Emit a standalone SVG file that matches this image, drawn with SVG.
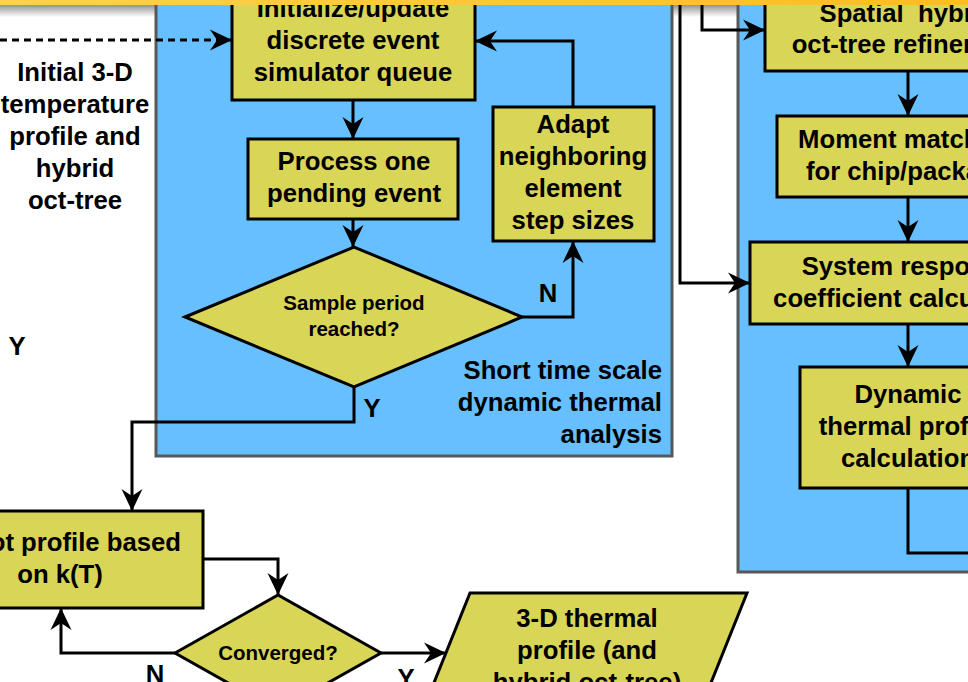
<svg xmlns="http://www.w3.org/2000/svg" width="968" height="682" viewBox="0 0 968 682">
<defs>
<linearGradient id="band" x1="0" y1="0" x2="1" y2="0">
<stop offset="0" stop-color="#fcd24c"/>
<stop offset="1" stop-color="#fbbd22"/>
</linearGradient>
<linearGradient id="shade" x1="0" y1="0" x2="0" y2="1">
<stop offset="0" stop-color="#8a8a8a"/>
<stop offset="1" stop-color="#ffffff"/>
</linearGradient>
<marker id="arr" markerUnits="userSpaceOnUse" markerWidth="24" markerHeight="24" viewBox="-23 -11 24 22" refX="0" refY="0" orient="auto">
<path d="M0,0 L-22,-10.5 L-15,0 L-22,10.5 Z" fill="#000"/>
</marker>
</defs>
<style>
.panel{fill:#66bfff;stroke:#585858;stroke-width:3}
.box{fill:#d9d557;stroke:#000;stroke-width:3}
.t{font-family:"Liberation Sans",Arial,sans-serif;font-weight:bold;font-size:25.7px;fill:#000;text-anchor:middle}
.s{font-size:20.5px}
.c{fill:none;stroke:#000;stroke-width:3}
.d{fill:none;stroke:#000;stroke-width:3;stroke-dasharray:7 5}
</style>
<rect x="0" y="0" width="968" height="682" fill="#fff"/>
<rect x="0" y="4" width="968" height="13" fill="url(#shade)"/>

<g id="panel-short">
<rect class="panel" x="156" y="-20" width="516" height="476"/>
<text class="t" style="text-anchor:end" x="662" y="379">Short time scale</text>
<text class="t" style="text-anchor:end" x="662" y="411">dynamic thermal</text>
<text class="t" style="text-anchor:end" x="662" y="443">analysis</text>
</g>
<g id="panel-long">
<rect class="panel" x="738" y="-20" width="260" height="592"/>
</g>

<g id="initial-text">
<text class="t" x="75" y="81">Initial 3-D</text>
<text class="t" x="75" y="113">temperature</text>
<text class="t" x="75" y="145">profile and</text>
<text class="t" x="75" y="177">hybrid</text>
<text class="t" x="75" y="209">oct-tree</text>
</g>

<g id="init-queue">
<rect class="box" x="232" y="-30" width="243" height="130"/>
<text class="t" x="353" y="17">Initialize/update</text>
<text class="t" x="353" y="49">discrete event</text>
<text class="t" x="353" y="81">simulator queue</text>
</g>
<g id="process-event">
<rect class="box" x="248" y="139" width="210" height="80"/>
<text class="t" x="354" y="170">Process one</text>
<text class="t" x="354" y="202">pending event</text>
</g>
<g id="sample-period">
<polygon class="box" points="185,317 354,247 522,317 354,387"/>
<text class="t s" x="354" y="310">Sample period</text>
<text class="t s" x="354" y="336">reached?</text>
</g>
<g id="adapt">
<rect class="box" x="493" y="107" width="161" height="134"/>
<text class="t" x="573" y="133">Adapt</text>
<text class="t" x="573" y="165">neighboring</text>
<text class="t" x="573" y="197">element</text>
<text class="t" x="573" y="229">step sizes</text>
</g>

<g id="spatial-refine">
<rect class="box" x="765" y="-30" width="240" height="101"/>
<text class="t" x="908" y="22" style="white-space:pre">Spatial  hybrid</text>
<text class="t" x="908" y="53">oct-tree refinement</text>
</g>
<g id="moment-match">
<rect class="box" x="777" y="116" width="230" height="81"/>
<text class="t" x="908" y="148">Moment matching</text>
<text class="t" x="908" y="180">for chip/package</text>
</g>
<g id="system-response">
<rect class="box" x="750" y="242" width="260" height="82"/>
<text class="t" x="908" y="275">System response</text>
<text class="t" x="908" y="307">coefficient calculation</text>
</g>
<g id="dynamic-profile">
<rect class="box" x="800" y="367" width="210" height="121"/>
<text class="t" x="908" y="403">Dynamic</text>
<text class="t" x="908" y="435">thermal profile</text>
<text class="t" x="908" y="467">calculation</text>
</g>

<g id="kt-profile">
<rect class="box" x="-40" y="511" width="243" height="97"/>
<text class="t" style="text-anchor:end" x="181" y="551">ot profile based</text>
<text class="t" x="60" y="583">on k(T)</text>
</g>
<g id="converged">
<polygon class="box" points="175,653 278,595 381,653 278,711"/>
<text class="t s" x="278" y="660">Converged?</text>
</g>
<g id="output-profile">
<polygon class="box" points="470,593 747,593 684,750 407,750"/>
<text class="t" x="587" y="627">3-D thermal</text>
<text class="t" x="587" y="659">profile (and</text>
<text class="t" x="587" y="691">hybrid oct-tree)</text>
</g>

<g id="connectors">
<path class="d" d="M0,40 H232" marker-end="url(#arr)"/>
<path class="c" d="M353,100 V139" marker-end="url(#arr)"/>
<path class="c" d="M353,219 V247" marker-end="url(#arr)"/>
<path class="c" d="M522,317 H573 V241" marker-end="url(#arr)"/>
<path class="c" d="M573,107 V41 H475" marker-end="url(#arr)"/>
<path class="c" d="M354,387 V422 H132 V511" marker-end="url(#arr)"/>
<path class="c" d="M680,-10 V283 H750" marker-end="url(#arr)"/>
<path class="c" d="M702,-10 V30 H765" marker-end="url(#arr)"/>
<path class="c" d="M908,71 V116" marker-end="url(#arr)"/>
<path class="c" d="M908,197 V242" marker-end="url(#arr)"/>
<path class="c" d="M908,324 V367" marker-end="url(#arr)"/>
<path class="c" d="M908,488 V553 H980"/>
<path class="c" d="M203,559 H278 V595" marker-end="url(#arr)"/>
<path class="c" d="M175,653 H61 V608" marker-end="url(#arr)"/>
<path class="c" d="M381,653 H446" marker-end="url(#arr)"/>
<text class="t" x="548" y="302">N</text>
<text class="t" x="372" y="417">Y</text>
<text class="t" x="155" y="683">N</text>
<text class="t" x="406" y="687">Y</text>
<text class="t" x="17" y="355">Y</text>
</g>

<rect x="0" y="0" width="968" height="5" fill="url(#band)"/>
</svg>
